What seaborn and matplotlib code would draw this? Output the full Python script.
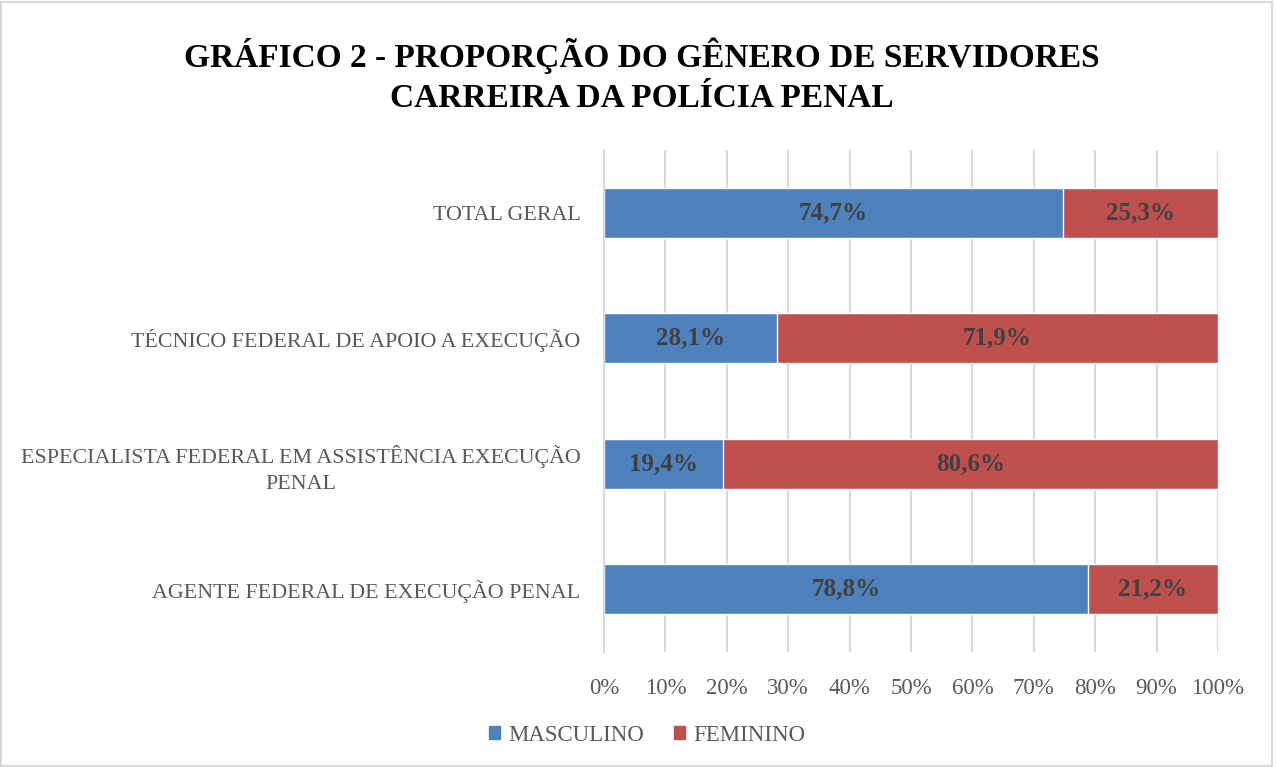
import pandas as pd
import matplotlib.pyplot as plt
import seaborn as sns
from matplotlib.patches import Patch, Rectangle

categorias = ['TOTAL GERAL',
              'TÉCNICO FEDERAL DE APOIO A EXECUÇÃO',
              'ESPECIALISTA FEDERAL EM ASSISTÊNCIA EXECUÇÃO\nPENAL',
              'AGENTE FEDERAL DE EXECUÇÃO PENAL']
masculino = [74.7, 28.1, 19.4, 78.8]
feminino = [25.3, 71.9, 80.6, 21.2]
ticks_x = [0, 10, 20, 30, 40, 50, 60, 70, 80, 90, 100]

AZUL = '#4f81bd'
VERMELHO = '#c0504d'
FONTE = ['Liberation Serif', 'DejaVu Serif']

sns.set_style('white')
plt.rcParams['font.family'] = FONTE

df = pd.DataFrame({'cat': categorias, 'masc': masculino, 'fem': feminino})
df['total'] = df['masc'] + df['fem']

fig = plt.figure(figsize=(12.76, 7.67), dpi=100)
ax = fig.add_axes([0.4734, 0.150, 0.4811, 0.6544])

# stacked: full bar in red, male part drawn over it in blue
sns.barplot(data=df, x='total', y='cat', color=VERMELHO, width=0.4,
            saturation=1, ax=ax, orient='h')
sns.barplot(data=df, x='masc', y='cat', color=AZUL, width=0.4,
            saturation=1, ax=ax, orient='h')

for i, (m, f) in enumerate(zip(masculino, feminino)):
    ax.text(m / 2, i, f'{m:.1f}%'.replace('.', ','), ha='center', va='center',
            fontsize=18, fontweight='bold', color='#404040')
    ax.text(m + f / 2, i, f'{f:.1f}%'.replace('.', ','), ha='center', va='center',
            fontsize=18, fontweight='bold', color='#404040')

ax.set_xlim(0, 100)
ax.set_ylim(3.5, -0.5)
ax.set_xticks(ticks_x)
ax.set_xticklabels([f'{t}%' for t in ticks_x])
ax.tick_params(axis='x', length=0, pad=19, labelsize=16.5, labelcolor='#595959')
ax.tick_params(axis='y', length=0, pad=17, labelsize=15.8, labelcolor='#595959')
for lab in ax.get_yticklabels():
    lab.set_multialignment('center')
    lab.set_linespacing(1.5)
ax.set_xlabel('')
ax.set_ylabel('')
ax.grid(axis='x', color='#d9d9d9', linewidth=1.5)
ax.set_axisbelow(True)
for s in ['top', 'right', 'bottom']:
    ax.spines[s].set_visible(False)
ax.spines['left'].set_color('#d9d9d9')
ax.spines['left'].set_linewidth(1.5)

fig.text(0.503, 0.901, 'GRÁFICO 2 - PROPORÇÃO DO GÊNERO DE SERVIDORES\nCARREIRA DA POLÍCIA PENAL',
         ha='center', va='center', fontsize=24, fontweight='bold', color='black',
         linespacing=1.4)

handles = [Patch(color=AZUL, label='MASCULINO'), Patch(color=VERMELHO, label='FEMININO')]
fig.legend(handles=handles, loc='center', bbox_to_anchor=(0.507, 0.041), ncol=2,
           frameon=False, fontsize=16.5, handlelength=0.5, handleheight=0.5,
           handletextpad=0.35, columnspacing=1.3, labelcolor='#595959')

fig.patches.append(Rectangle((0.001, 0.001), 0.996, 0.997, transform=fig.transFigure,
                             fill=False, edgecolor='#d9d9d9', linewidth=1.5))

fig.savefig('out.png', dpi=100)
